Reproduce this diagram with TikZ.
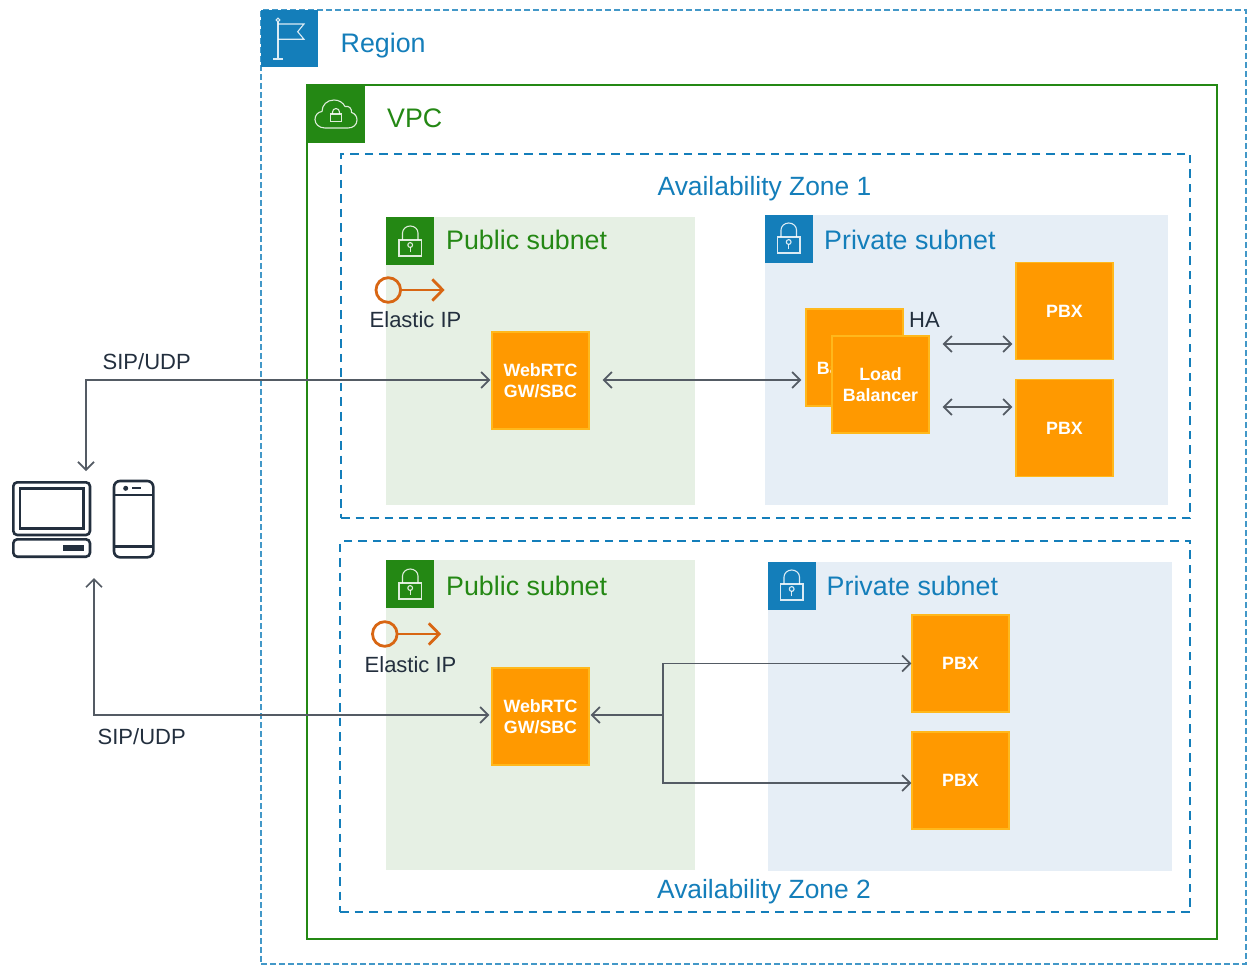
\documentclass[tikz,border=0pt]{standalone}
\usepackage{fontspec}
\setmainfont{Liberation Sans}
\usetikzlibrary{arrows.meta,calc}
\definecolor{regblue}{HTML}{147EBA}
\definecolor{vpcgreen}{HTML}{248814}
\definecolor{pubfill}{HTML}{E6F0E4}
\definecolor{prifill}{HTML}{E6EEF6}
\definecolor{awsorange}{HTML}{FF9900}
\definecolor{orangeedge}{HTML}{FFB81C}
\definecolor{linegrey}{HTML}{545B64}
\definecolor{inkdark}{HTML}{232F3E}
\definecolor{eiporange}{HTML}{D86613}
\tikzset{
  x=1pt,y=-1pt,
  frame/.style={anchor=north west,inner sep=0pt,outer sep=0pt},
  regionframe/.style={frame,draw=regblue!80,line width=1.3pt,dash pattern=on 6pt off 3pt},
  vpcframe/.style={frame,draw=vpcgreen,line width=2pt},
  azframe/.style={frame,draw=regblue,line width=1.7pt,dash pattern=on 8.5pt off 6pt},
  pubarea/.style={frame,fill=pubfill},
  priarea/.style={frame,fill=prifill},
  iconbg/.style={frame,minimum width=#1,minimum height=#1},
  service/.style={fill=awsorange,draw=orangeedge,line width=1.4pt,minimum width=97pt,minimum height=97pt,inner sep=0pt,
     text=white,font=\fontsize{17.8}{21}\selectfont\bfseries,align=center},
  bluetext/.style={text=regblue,anchor=base west,inner sep=0pt,font=\fontsize{26.8}{30}\selectfont},
  greentext/.style={text=vpcgreen,anchor=base west,inner sep=0pt,font=\fontsize{26.8}{30}\selectfont},
  azlabel/.style={text=regblue,anchor=base,inner sep=0pt,font=\fontsize{26.4}{30}\selectfont},
  darktext/.style={text=inkdark,anchor=base west,inner sep=0pt,font=\fontsize{22}{26}\selectfont},
  conn/.style={draw=linegrey,line width=1.7pt,{Straight Barb[length=8pt,width=16pt,line width=1.7pt]}-{Straight Barb[length=8pt,width=16pt,line width=1.7pt]}},
  connhead/.style={draw=linegrey,line width=1.7pt,-{Straight Barb[length=8pt,width=16pt,line width=1.7pt]}},
  whiteicon/.style={draw=white!100,draw opacity=.85,line width=1.1pt},
  eip/.style={draw=eiporange,line width=2.8pt},
  device/.style={draw=inkdark,line width=2.6pt,rounded corners=4pt},
}
\newcommand{\lockicon}[2]{%
  \begin{scope}[shift={(#1,#2)}]
    \draw[whiteicon] (13,23) rectangle (35.5,39);
    \draw[whiteicon] (16.5,23) -- (16.5,16) arc[start angle=180,end angle=0,x radius=7.75pt,y radius=7pt] -- (32,23);
    \draw[whiteicon] (24.2,28) circle[radius=2.4pt];
    \draw[whiteicon] (24.2,30.4) -- (24.2,35);
  \end{scope}}
\newcommand{\eipicon}[2]{%
  \begin{scope}[shift={(#1,#2)}]
    \draw[eip] (388.3,290) circle[radius=12.3pt];
    \draw[eip] (400.6,290) -- (442.5,290);
    \draw[eip] (432.3,279.3) -- (442.7,290) -- (432.3,300.7);
  \end{scope}}
\begin{document}
\begin{tikzpicture}
\useasboundingbox[fill=white] (0,0) rectangle (1247,965);
% containers
\node[regionframe,minimum width=985pt,minimum height=954pt] (region) at (261,10) {};
\node[vpcframe,minimum width=910pt,minimum height=854pt] (vpc) at (307,85) {};
\node[azframe,minimum width=849pt,minimum height=364pt] (az1) at (341,154) {};
\node[azframe,minimum width=850pt,minimum height=371pt] (az2) at (340,541) {};
\node[pubarea,minimum width=309pt,minimum height=288pt] (pub1) at (386,217) {};
\node[priarea,minimum width=403pt,minimum height=290pt] (pri1) at (765,215) {};
\node[pubarea,minimum width=309pt,minimum height=310pt] (pub2) at (386,560) {};
\node[priarea,minimum width=404pt,minimum height=309pt] (pri2) at (768,562) {};
% icon squares
\node[iconbg=57pt,fill=regblue] (regionicon) at (261,10) {};
\node[iconbg=58pt,fill=vpcgreen] (vpcicon) at (307,85) {};
\node[iconbg=48pt,fill=vpcgreen] (pub1icon) at (386,217) {};
\node[iconbg=48pt,fill=regblue] (pri1icon) at (765,215) {};
\node[iconbg=48pt,fill=vpcgreen] (pub2icon) at (386,560) {};
\node[iconbg=48pt,fill=regblue] (pri2icon) at (768,562) {};
% flag glyph
\draw[whiteicon] (278,22) -- (278,59) (273.3,59) -- (282.7,59);
\draw[whiteicon] (278,20) circle[radius=1.8pt];
\draw[whiteicon] (278,24) -- (304,24) -- (297.7,31.7) -- (304,39.3) -- (278,39.3);
% cloud glyph
\draw[whiteicon,line join=round] (325,128) .. controls (319,128) and (315,124) .. (315,119.5)
  .. controls (315,115) and (318,112) .. (322,111.5)
  .. controls (322,105) and (327,100) .. (334,100)
  .. controls (339,100) and (343,102.5) .. (345,106.5)
  .. controls (349,105.5) and (352,108.5) .. (351.5,112.5)
  .. controls (355,113.5) and (357,116.5) .. (357,120)
  .. controls (357,125) and (353,128) .. (348,128) -- cycle;
\draw[whiteicon] (330.5,114) rectangle (341.5,121.5);
\draw[whiteicon] (332.5,114) -- (332.5,112) arc[start angle=180,end angle=0,x radius=3.5pt,y radius=3.5pt] -- (339.5,114);
\lockicon{386}{217}
\lockicon{764.5}{214}
\lockicon{386}{560}
\lockicon{767.5}{561}
% container labels
\node[bluetext] (regionlabel) at (340.5,52.5) {Region};
\node[greentext] (vpclabel) at (387,127.5) {VPC};
\node[azlabel] (az1label) at (764.5,196) {Availability Zone 1};
\node[azlabel] (az2label) at (764,898) {Availability Zone 2};
\node[greentext] (pub1label) at (446,250) {Public subnet};
\node[bluetext] (pri1label) at (824,249.5) {Private subnet};
\node[greentext] (pub2label) at (446,595) {Public subnet};
\node[bluetext] (pri2label) at (826.5,595) {Private subnet};
% elastic ips
\eipicon{0}{0}
\eipicon{-3.5}{344}
\node[darktext] (eip1label) at (369.5,328) {Elastic IP};
\node[darktext] (eip2label) at (364.5,672) {Elastic IP};
% services
\node[service] (gw1) at (540.5,380.5) {WebRTC\\GW/SBC};
\node[service] (lbback) at (854.5,357.5) {Load\\Balancer};
\node[service] (lbfront) at (880.5,384.5) {Load\\Balancer};
\node[service] (pbx1) at (1064.5,311) {PBX};
\node[service] (pbx2) at (1064.5,428) {PBX};
\node[service] (gw2) at (540.5,716.5) {WebRTC\\GW/SBC};
\node[service] (pbx3) at (960.5,663.5) {PBX};
\node[service] (pbx4) at (960.5,780.5) {PBX};
\node[darktext] (ha) at (909,328) {HA};
\node[darktext] (sip1) at (102.5,370) {SIP/UDP};
\node[darktext] (sip2) at (97.5,744.5) {SIP/UDP};
% devices
\draw[device] (13.3,482.3) rectangle (90,535);
\draw[device,rounded corners=0pt] (20,488.7) rectangle (83.3,528.3);
\draw[device] (13.3,539.3) rectangle (90,556.7);
\fill[inkdark] (62.7,545) rectangle (84,550.7);
\draw[device,rounded corners=6pt] (114,481) rectangle (153.3,557.3);
\draw[device,rounded corners=0pt] (114,495) -- (153.3,495) (114,546.7) -- (153.3,546.7);
\fill[inkdark] (125.7,488.3) circle[radius=2.5pt];
\draw[device,rounded corners=0pt,line width=2pt] (132.3,488.3) -- (141,488.3);
% connectors
\coordinate (dev1) at (86,471);
\coordinate (dev2) at (94,578);
\coordinate (fork) at (663,715);
\draw[conn,shorten >=1pt] (dev1) |- ([yshift=.5pt]gw1.west);
\draw[conn,shorten >=2pt] (dev2) |- ([yshift=1.5pt]gw2.west);
\draw[conn,shorten <=13pt,shorten >=4pt] ([yshift=.5pt]gw1.east) -- ([yshift=-22.5pt]lbback.west);
\draw[conn,shorten <=13pt,shorten >=3pt] ([yshift=40.5pt]lbfront.east) -- ([yshift=-33pt]pbx1.west);
\draw[conn,shorten <=13pt,shorten >=3pt] ([yshift=-22.5pt]lbfront.east) -- ([yshift=21pt]pbx2.west);
\draw[connhead,shorten >=1pt] (fork) -- ([yshift=1.5pt]gw2.east);
\draw[connhead] (fork) |- (pbx3.west);
\draw[connhead] (fork) |- ([yshift=-2.5pt]pbx4.west);
\end{tikzpicture}
\end{document}
